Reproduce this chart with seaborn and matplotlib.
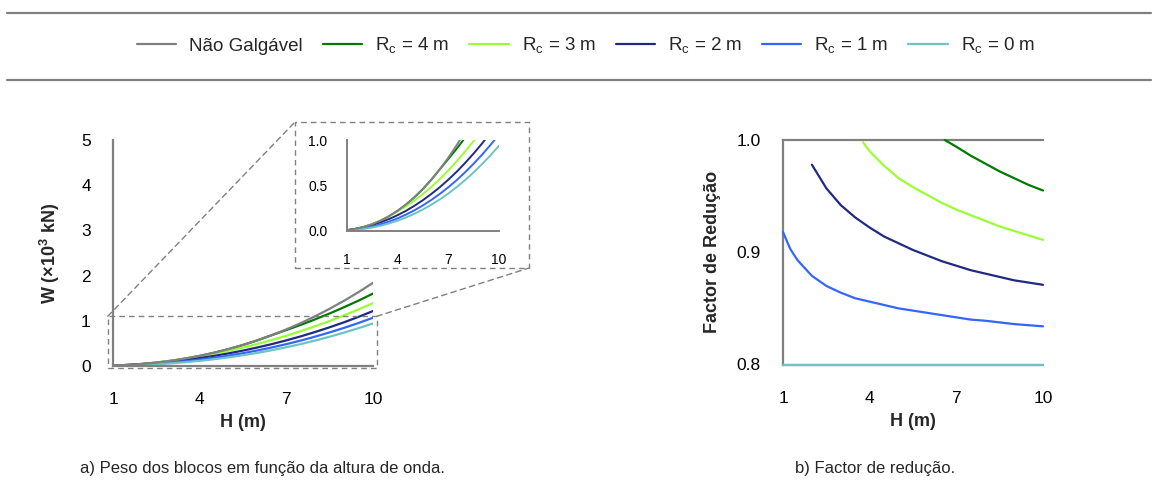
import numpy as np
import pandas as pd
import seaborn as sns
import matplotlib
matplotlib.use("Agg")
import matplotlib.pyplot as plt
from matplotlib.lines import Line2D
from matplotlib.patches import Rectangle, ConnectionPatch

# ---------------- data ----------------
series_names = ["Não Galgável", "R$_\\mathregular{c}$ = 4 m", "R$_\\mathregular{c}$ = 3 m",
                "R$_\\mathregular{c}$ = 2 m", "R$_\\mathregular{c}$ = 1 m", "R$_\\mathregular{c}$ = 0 m"]
colors = ["#808080", "#007A00", "#99FF33", "#1F2A80", "#3366FF", "#6CC4C4"]

H_w = [1, 1.5, 2, 2.5, 3, 3.5, 4, 4.5, 5, 5.5, 6, 6.5, 7, 7.5, 8, 8.5, 9, 9.5, 10]
W_ng = [0.0092, 0.0234, 0.0454, 0.0759, 0.1154, 0.1645, 0.2236, 0.2932, 0.3736, 0.4652,
        0.5683, 0.6831, 0.8102, 0.9494, 1.1013, 1.2661, 1.4440, 1.6352, 1.8400]
W_rc4 = [0.0092, 0.0234, 0.0454, 0.0759, 0.1154, 0.1645, 0.2236, 0.2932, 0.3736, 0.4652,
         0.5683, 0.6831, 0.7957, 0.9101, 1.0334, 1.1627, 1.3016, 1.4467, 1.6026]
W_rc3 = [0.0092, 0.0234, 0.0454, 0.0759, 0.1154, 0.1645, 0.2170, 0.2734, 0.3368, 0.4090,
         0.4888, 0.5746, 0.6687, 0.7711, 0.8802, 0.9955, 1.1208, 1.2527, 1.3912]
W_rc2 = [0.0092, 0.0234, 0.0425, 0.0665, 0.0965, 0.1328, 0.1753, 0.2239, 0.2797, 0.3414,
         0.4101, 0.4848, 0.5673, 0.6558, 0.7531, 0.8569, 0.9673, 1.0879, 1.2159]
W_rc1 = [0.0071, 0.0167, 0.0308, 0.0500, 0.0744, 0.1043, 0.1402, 0.1820, 0.2294, 0.2837,
         0.3441, 0.4107, 0.4836, 0.5627, 0.6504, 0.7437, 0.8437, 0.9520, 1.0674]
W_rc0 = [0.0047, 0.0120, 0.0232, 0.0389, 0.0591, 0.0842, 0.1145, 0.1501, 0.1913, 0.2382,
         0.2910, 0.3497, 0.4148, 0.4861, 0.5639, 0.6482, 0.7393, 0.8372, 0.9421]

H_f4 = [6.6, 7, 7.5, 8, 8.5, 9, 9.5, 10]
F_rc4 = [1.0, 0.994, 0.986, 0.979, 0.972, 0.966, 0.960, 0.955]
H_f3 = [3.77, 4, 4.5, 5, 5.5, 6, 6.5, 7, 7.5, 8, 8.5, 9, 9.5, 10]
F_rc3 = [0.998, 0.990, 0.977, 0.966, 0.958, 0.951, 0.944, 0.938, 0.933, 0.928, 0.923, 0.919, 0.915, 0.911]
H_f2 = [2, 2.5, 3, 3.5, 4, 4.5, 5, 5.5, 6, 6.5, 7, 7.5, 8, 8.5, 9, 9.5, 10]
F_rc2 = [0.978, 0.957, 0.942, 0.931, 0.922, 0.914, 0.908, 0.902, 0.897, 0.892, 0.888, 0.884,
         0.881, 0.878, 0.875, 0.873, 0.871]
H_f1 = [1, 1.25, 1.5, 2, 2.5, 3, 3.5, 4, 4.5, 5, 5.5, 6, 6.5, 7, 7.5, 8, 8.5, 9, 9.5, 10]
F_rc1 = [0.918, 0.903, 0.893, 0.879, 0.870, 0.864, 0.859, 0.856, 0.853, 0.850, 0.848, 0.846,
         0.844, 0.842, 0.840, 0.839, 0.8375, 0.836, 0.835, 0.834]
H_f0 = [1, 10]
F_rc0 = [0.8, 0.8]

x_ticks = [1, 4, 7, 10]
w_ticks = [0, 1, 2, 3, 4, 5]
w_inset_ticks = [0.0, 0.5, 1.0]
f_ticks = [0.8, 0.9, 1.0]

# ---------------- tables ----------------
w_series = [W_ng, W_rc4, W_rc3, W_rc2, W_rc1, W_rc0]
df_w = pd.concat([pd.DataFrame({"H": H_w, "W": w, "s": n}) for n, w in zip(series_names, w_series)])
f_pairs = [(H_f4, F_rc4), (H_f3, F_rc3), (H_f2, F_rc2), (H_f1, F_rc1), (H_f0, F_rc0)]
df_f = pd.concat([pd.DataFrame({"H": h, "F": f, "s": n}) for n, (h, f) in zip(series_names[1:], f_pairs)])
palette = dict(zip(series_names, colors))

# ---------------- style ----------------
sns.set_theme(style="white")
plt.rcParams["font.family"] = ["Liberation Sans", "DejaVu Sans"]
plt.rcParams["mathtext.fontset"] = "custom"
plt.rcParams["mathtext.rm"] = "Liberation Sans"
plt.rcParams["mathtext.bf"] = "Liberation Sans:bold"

W, Hpx = 1158, 487
fig = plt.figure(figsize=(W / 100, Hpx / 100), dpi=100)
spine_c = "#808080"


def style_axes(ax, lw=1.6, ticklen=4, fs=12.5, padx=19, pady=16):
    for side in ["top", "right"]:
        ax.spines[side].set_visible(False)
    for side in ["left", "bottom"]:
        ax.spines[side].set_color(spine_c)
        ax.spines[side].set_linewidth(lw)
    ax.tick_params(axis="both", direction="in", length=ticklen, width=1.0, color=spine_c,
                   labelsize=fs, labelcolor="black")
    ax.tick_params(axis="x", pad=padx)
    ax.tick_params(axis="y", pad=pady)


def fx(px):
    return px / W


def fy(py):
    return 1 - py / Hpx


def raise_gray(ax):
    for ln in ax.get_lines():
        if matplotlib.colors.to_hex(ln.get_color()).lower() == "#808080":
            ln.set_zorder(3)


# left main axes
axL = fig.add_axes([fx(113), fy(366), fx(373) - fx(113), fy(140) - fy(366)])
sns.lineplot(data=df_w, x="H", y="W", hue="s", palette=palette, hue_order=series_names,
             estimator=None, sort=False, linewidth=1.6, legend=False, ax=axL)
raise_gray(axL)
axL.set_xlim(1, 10)
axL.set_ylim(0, 5)
axL.set_xticks(x_ticks)
axL.set_yticks(w_ticks)
style_axes(axL)
axL.set_xlabel("H (m)", fontsize=13, fontweight="bold", labelpad=5)
axL.set_ylabel("W (×10$^\\mathbf{3}$ kN)", fontsize=13, fontweight="bold", labelpad=14)

# dashed zoom rectangle on main axes
rect = Rectangle((0.82, -0.05), 9.31, 1.15, fill=False, ls=(0, (4, 3)), lw=1.0,
                 ec=spine_c, clip_on=False, zorder=5)
axL.add_patch(rect)

# inset axes
axI = fig.add_axes([fx(347), fy(231), fx(499) - fx(347), fy(140.5) - fy(231)])
sns.lineplot(data=df_w, x="H", y="W", hue="s", palette=palette, hue_order=series_names,
             estimator=None, sort=False, linewidth=1.4, legend=False, ax=axI)
raise_gray(axI)
axI.set_xlim(1, 10)
axI.set_ylim(0, 1.0)
axI.set_xticks(x_ticks)
axI.set_yticks(w_inset_ticks)
axI.set_yticklabels([f"{v:.1f}" for v in w_inset_ticks])
style_axes(axI, lw=1.4, ticklen=3, fs=10, padx=16, pady=14)
axI.set_xlabel("")
axI.set_ylabel("")

# dashed frame around inset (figure coordinates)
frame = Rectangle((fx(295), fy(268)), fx(529) - fx(295), fy(122) - fy(268),
                  transform=fig.transFigure, fill=False, ls=(0, (4, 3)), lw=1.0, ec=spine_c)
fig.add_artist(frame)
for (xa, ya), (xb, yb) in [((0.82, 1.1), (fx(295), fy(122))), ((10.13, 1.1), (fx(529), fy(268)))]:
    con = ConnectionPatch(xyA=(xa, ya), coordsA=axL.transData,
                          xyB=(xb, yb), coordsB=fig.transFigure,
                          ls=(0, (4, 3)), lw=1.0, color=spine_c)
    fig.add_artist(con)

# right axes
axR = fig.add_axes([fx(783), fy(364.5), fx(1043) - fx(783), fy(140) - fy(364.5)])
sns.lineplot(data=df_f, x="H", y="F", hue="s", palette=palette, hue_order=series_names[1:],
             estimator=None, sort=False, linewidth=1.6, legend=False, ax=axR)
for ln in axR.get_lines():
    ln.set_clip_on(False)
    ln.set_zorder(4)
axR.set_xlim(1, 10)
axR.set_ylim(0.8, 1.0)
axR.set_xticks(x_ticks)
axR.set_yticks(f_ticks)
axR.set_yticklabels([f"{v:.1f}" for v in f_ticks])
style_axes(axR)
axR.spines["top"].set_visible(True)
axR.spines["top"].set_color(spine_c)
axR.spines["top"].set_linewidth(1.6)
axR.set_xlabel("H (m)", fontsize=13, fontweight="bold", labelpad=5)
axR.set_ylabel("Factor de Redução", fontsize=13, fontweight="bold", labelpad=11)

# legend + horizontal rules
handles = [Line2D([0], [0], color=c, lw=1.6) for c in colors]
fig.legend(handles, series_names, loc="center", bbox_to_anchor=(fx(586), fy(46)), ncol=6,
           frameon=False, fontsize=13.5, handlelength=2.1, columnspacing=1.05, handletextpad=0.7)
for yy in [12.7, 80]:
    fig.add_artist(Line2D([fx(7), fx(1151)], [fy(yy), fy(yy)], transform=fig.transFigure,
                          color=spine_c, lw=1.6))

# captions
fig.text(fx(80), fy(468), "a) Peso dos blocos em função da altura de onda.", fontsize=12,
         ha="left", va="center")
fig.text(fx(795), fy(468), "b) Factor de redução.", fontsize=12, ha="left", va="center")

fig.savefig("out.png", dpi=100)
